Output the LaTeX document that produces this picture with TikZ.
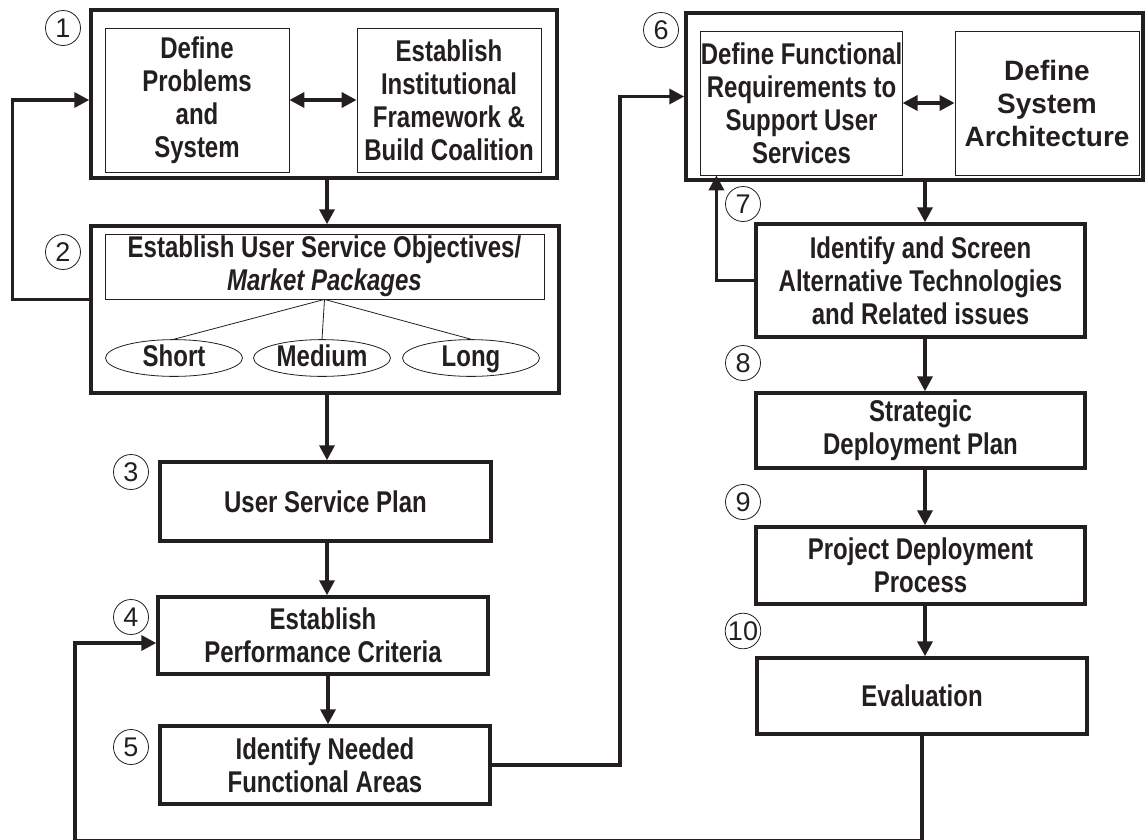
\documentclass[tikz,border=0pt]{standalone}
\usepackage{fontspec}
\setmainfont{Liberation Sans}
\newfontfamily\narrowsans[FakeStretch=0.8]{Liberation Sans}
\usetikzlibrary{arrows.meta, calc, positioning, shapes.geometric}
\definecolor{ink}{RGB}{35,31,32}

\begin{document}
\begin{tikzpicture}[x=1pt, y=-1pt, color=ink,
    group box/.style={draw, line width=3.5pt, inner sep=0pt},
    inner box/.style={draw, line width=0.8pt, inner sep=0pt, align=center, font=\narrowsans\fontsize{30}{33}\selectfont\bfseries},
    step box/.style={draw, line width=3.5pt, inner sep=0pt, align=center, font=\narrowsans\fontsize{30}{33}\selectfont\bfseries},
    term node/.style={draw, ellipse, line width=0.8pt, inner sep=0pt, minimum width=137pt, minimum height=33pt, text height=21pt, text depth=5pt, font=\narrowsans\fontsize{30}{33}\selectfont\bfseries},
    num node/.style={draw, circle, line width=0.8pt, inner sep=0pt, minimum size=35pt, font=\fontsize{27}{27}\selectfont},
    flow/.style={line width=3.5pt, -{Triangle[length=15pt,width=15pt]}},
    both flow/.style={line width=3.5pt, {Triangle[length=15pt,width=15pt]}-{Triangle[length=15pt,width=15pt]}}]
    \useasboundingbox (0,0) rectangle (1145,839);

    \node[group box, minimum width=466pt, minimum height=168pt] (box1) at (324,94) {};
    \node[inner box, minimum width=184pt, minimum height=144pt] (prob) at (197,100) {Define\\Problems\\and\\System};
    \node[inner box, minimum width=184pt, minimum height=144pt] (inst) at (449,100) {Establish\\Institutional\\Framework \&\\Build Coalition};

    \node[group box, minimum width=468pt, minimum height=167pt] (box2) at (325,309.5) {};
    \node[inner box, minimum width=439pt, minimum height=65pt] (obj) at (324.5,266.5) {Establish User Service Objectives/\\\textit{Market Packages}};
    \node[term node] (short) at (174,358) {Short};
    \node[term node] (medium) at (322,358) {Medium};
    \node[term node] (long) at (471,358) {Long};

    \node[step box, minimum width=331pt, minimum height=79pt] (usp) at (325.5,501.5) {User Service Plan};
    \node[step box, minimum width=330pt, minimum height=77pt] (perf) at (323,635.5) {Establish\\Performance Criteria};
    \node[step box, minimum width=330pt, minimum height=78pt] (areas) at (325,765) {Identify Needed\\Functional Areas};

    \node[group box, minimum width=457pt, minimum height=167pt] (box6) at (914.5,96.5) {};
    \node[inner box, minimum width=199pt, minimum height=144pt] (freq) at (801.5,103) {Define Functional\\Requirements to\\Support User\\Services};
    \node[inner box, minimum width=184pt, minimum height=144pt, font=\fontsize{28}{33}\selectfont\bfseries] (arch) at (1047,103) {Define\\System\\Architecture};

    \node[step box, minimum width=329pt, minimum height=113pt] (screen) at (920.5,280.5) {Identify and Screen\\Alternative Technologies\\and Related issues};
    \node[step box, minimum width=329pt, minimum height=75pt] (plan) at (920.5,430.5) {Strategic\\Deployment Plan};
    \node[step box, minimum width=329pt, minimum height=77pt] (proj) at (920.5,565.5) {Project Deployment\\Process};
    \node[step box, minimum width=330pt, minimum height=76pt] (eval) at (922,696) {Evaluation};

    \node[num node] (n1) at (63,28) {1};
    \node[num node] (n2) at (63,252) {2};
    \node[num node] (n3) at (131,472) {3};
    \node[num node] (n4) at (131,617) {4};
    \node[num node] (n5) at (131,747) {5};
    \node[num node] (n6) at (661,30) {6};
    \node[num node] (n7) at (743,204) {7};
    \node[num node] (n8) at (743,363) {8};
    \node[num node] (n9) at (743,502) {9};
    \node[num node] (n10) at (743,631) {10};

    \draw[both flow] (prob.east) -- (inst.west);
    \draw[both flow] (freq.east) -- (arch.west);

    \draw[line width=0.8pt] (obj.south) -- (short.north);
    \draw[line width=0.8pt] (obj.south) -- (medium.north);
    \draw[line width=0.8pt] (obj.south) -- (long.north);

    \draw[flow] (box1.south -| 327,0) -- (box2.north -| 327,0);
    \draw[flow] (box2.south -| 327,0) -- (usp.north -| 327,0);
    \draw[flow] (usp.south -| 327,0) -- (perf.north -| 327,0);
    \draw[flow] (perf.south -| 328,0) -- (areas.north -| 328,0);

    \draw[flow] (box6.south -| 925,0) -- (screen.north -| 925,0);
    \draw[flow] (screen.south -| 925,0) -- (plan.north -| 925,0);
    \draw[flow] (plan.south -| 925,0) -- (proj.north -| 925,0);
    \draw[flow] (proj.south -| 925,0) -- (eval.north -| 925,0);

    \draw[flow] (obj.south -| box2.west) -- ++(-77,0) |- (prob.west -| box1.west);
    \draw[flow] (areas.east) -- ++(128,0) |- (box6.west);
    \draw[flow] (screen.west) -| ($(freq.south west)+(16,0)$);

    \coordinate (loop) at (75,840.8);
    \draw[flow] (eval.south) |- (loop) |- ($(perf.west)+(0,7.5)$);
\end{tikzpicture}
\end{document}
